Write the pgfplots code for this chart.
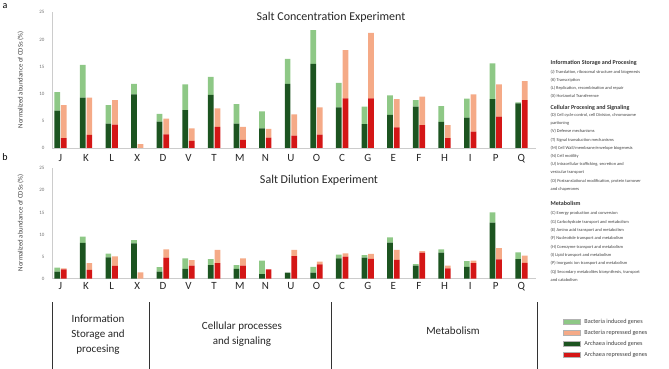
\documentclass[border=0pt]{standalone}
\usepackage{pgfplots}
\pgfplotsset{compat=1.18}
\usepackage{pgfplotstable}
\usepackage{fontspec}
\setmainfont{Carlito}

\definecolor{archInd}{RGB}{28,84,32}
\definecolor{bactInd}{RGB}{142,200,134}
\definecolor{archRep}{RGB}{212,22,22}
\definecolor{bactRep}{RGB}{245,170,135}
\definecolor{txt}{RGB}{64,64,64}

% ai/ar: archaea induced/repressed; bi/br: bacteria share stacked on top (%)
\pgfplotstableread{
idx cat ai  bi   ar   br
0   J   6.9 3.4  1.8  6.1
1   K   9.3 6.0  2.4  6.9
2   L   4.5 3.4  4.3  4.5
3   X   9.9 1.9  0.0  0.7
4   D   4.85 1.45 2.5 2.9
5   V   7.0 4.7  1.3  2.3
6   T   9.8 3.3  3.9  3.4
7   M   4.5 3.6  1.5  2.4
8   N   3.6 3.15 1.9  1.6
9   U   11.8 4.6 2.3  3.9
10  O   15.5 6.2 2.45 5.05
11  C   7.5 4.5  9.15 8.9
12  G   4.4 3.2  9.15 12.05
13  E   6.1 3.6  3.8  5.2
14  F   7.6 1.2  4.2  5.25
15  H   4.8 2.9  1.8  2.4
16  I   5.6 3.5  3.0  6.9
17  P   9.0 6.6  5.8  5.9
18  Q   8.2 0.2  8.8  3.5
}\concdata

\pgfplotstableread{
idx cat ai  bi   ar   br
0   J   1.6 0.9  2.1  0.25
1   K   8.1 1.4  2.0  1.5
2   L   4.85 0.85 2.9 2.15
3   X   8.0 0.75 0.0  1.45
4   D   1.6 1.0  4.75 1.9
5   V   2.2 2.4  2.95 1.25
6   T   3.1 1.35 3.5  3.0
7   M   2.2 0.9  2.95 1.65
8   N   1.05 3.05 2.1 0.0
9   U   1.4 0.0  5.1  1.4
10  O   1.35 1.35 3.25 0.6
11  C   4.6 0.85 5.0  0.75
12  G   4.75 0.6 4.5  1.1
13  E   8.15 1.2 4.25 2.25
14  F   2.95 0.35 5.9 0.35
15  H   5.9 0.75 2.35 0.6
16  I   2.7 1.3  3.5  0.6
17  P   12.7 2.3 4.4  2.5
18  Q   4.45 1.5 3.6  1.6
}\dilutdata

\pgfplotsset{
  panel/.style={
    scale only axis, width=484pt,
    xmin=-0.33, xmax=18.57, ymin=0, ymax=25,
    ybar stacked, bar width=5.7pt,
  },
  framed/.style={
    axis lines=left,
    axis line style={draw=black!20, -},
    major tick length=0pt,
    ytick={0,5,...,25},
    xtick={0,...,18},
    /pgf/number format/assume math mode=true,
    yticklabel style={font=\fontsize{5}{6}\selectfont, text=black!55, xshift=-4pt},
    xticklabel style={font=\fontsize{11}{12}\selectfont, text=black!85},
  },
}

\newcommand{\hd}[2]{\node[anchor=mid west, inner sep=0pt, text=black!80,
  font=\fontsize{6}{7}\selectfont\bfseries] at (550.5pt,369pt-#1pt) {#2};}
\newcommand{\ki}[2]{\node[anchor=mid west, inner sep=0pt, text=txt,
  font=\fontsize{4.4}{5}\selectfont] at (550.5pt,369pt-#1pt) {#2};}

\begin{document}
\begin{tikzpicture}
\path[use as bounding box] (0pt,0pt) rectangle (669pt,369pt);

% ---------- panel a: salt concentration ----------
\begin{axis}[panel, framed, height=135.7pt, at={(52pt,221pt)}, anchor=south west,
  xticklabels from table={\concdata}{cat},
  xticklabel style={yshift=-3pt}]
  \addplot[fill=archInd, draw=none, bar shift=-3.3pt] table[x=idx, y=ai] {\concdata};
  \addplot[fill=bactInd, draw=none, bar shift=-3.3pt] table[x=idx, y=bi] {\concdata};
\end{axis}
\begin{axis}[panel, hide axis, height=135.7pt, at={(52pt,221pt)}, anchor=south west]
  \addplot[fill=archRep, draw=none, bar shift=3.3pt] table[x=idx, y=ar] {\concdata};
  \addplot[fill=bactRep, draw=none, bar shift=3.3pt] table[x=idx, y=br] {\concdata};
\end{axis}

% ---------- panel b: salt dilution ----------
\begin{axis}[panel, framed, height=110.4pt, at={(52pt,90.3pt)}, anchor=south west,
  xticklabels from table={\dilutdata}{cat},
  xticklabel style={yshift=-0.5pt},
  legend style={at={(1.055,-0.35)}, anchor=north west, draw=none, fill=none,
    font=\fontsize{6.2}{7}\selectfont, text=txt, row sep=2.9pt, column sep=3pt,
    inner sep=0pt, nodes={inner sep=1.2pt}},
  legend cell align=left,
  legend image code/.code={\draw[#1, draw=black!30] (0pt,-2.3pt) rectangle (17pt,2.3pt);}]
  \addplot[fill=archInd, draw=none, bar shift=-3.3pt, forget plot] table[x=idx, y=ai] {\dilutdata};
  \addplot[fill=bactInd, draw=none, bar shift=-3.3pt, forget plot] table[x=idx, y=bi] {\dilutdata};
  \addlegendimage{fill=bactInd}\addlegendentry{Bacteria induced genes}
  \addlegendimage{fill=bactRep}\addlegendentry{Bacteria repressed genes}
  \addlegendimage{fill=archInd}\addlegendentry{Archaea induced genes}
  \addlegendimage{fill=archRep}\addlegendentry{Archaea repressed genes}
\end{axis}
\begin{axis}[panel, hide axis, height=110.4pt, at={(52pt,90.3pt)}, anchor=south west]
  \addplot[fill=archRep, draw=none, bar shift=3.3pt] table[x=idx, y=ar] {\dilutdata};
  \addplot[fill=bactRep, draw=none, bar shift=3.3pt] table[x=idx, y=br] {\dilutdata};
\end{axis}

% panel letters, titles, y labels
\node[font=\fontsize{10}{12}\selectfont] at (5pt,363pt) {a};
\node[font=\fontsize{10}{12}\selectfont] at (5pt,212pt) {b};
\node[font=\fontsize{12}{14}\selectfont, text=black!85] at (331pt,352pt) {Salt Concentration Experiment};
\node[font=\fontsize{12}{14}\selectfont, text=black!85] at (319pt,189pt) {Salt Dilution Experiment};
\node[rotate=90, font=\fontsize{6.8}{8}\selectfont, text=txt] at (20.5pt,289pt) {Normalized abundance of CDSs (\%)};
\node[rotate=90, font=\fontsize{6.8}{8}\selectfont, text=txt] at (20.5pt,146pt) {Normalized abundance of CDSs (\%)};

% functional groups below the categories
\draw[black!80, line width=0.9pt] (52pt,0pt) -- (52pt,67pt) (149.5pt,0pt) -- (149.5pt,67pt)
  (331.7pt,0pt) -- (331.7pt,67pt) (537pt,0pt) -- (537pt,67pt);
\node[align=center, font=\fontsize{11}{15}\selectfont, text=black!85] at (98pt,34pt)
  {Information\\Storage and\\procesing};
\node[align=center, font=\fontsize{11}{15}\selectfont, text=black!85] at (242pt,34.7pt)
  {Cellular processes\\and signaling};
\node[font=\fontsize{11}{13}\selectfont, text=black!85] at (453pt,38pt) {Metabolism};

% COG category key
\hd{61.7}{Information Storage and Procesing}
\ki{70.7}{(J) Translation, ribosomal structure and biogenesis}
\ki{79}{(K) Transcription}
\ki{87.3}{(L) Replication, recombination and repair}
\ki{95.6}{(X) Horizontal Transference}
\hd{107.3}{Cellular Procesing and Signaling}
\ki{114.3}{(D) Cell cycle control, cell Division, chromosome}
\ki{122}{partioning}
\ki{130.3}{(V) Defense mechanisms}
\ki{138.7}{(T) Signal transduction mechanisms}
\ki{147}{(M) Cell Wall/membrane/envelope biogenesis}
\ki{155}{(N) Cell motility}
\ki{163}{(U) Intracellular trafficking, secretion and}
\ki{171}{vesicular transport}
\ki{179.7}{(O) Postranslational modification, protein turnover}
\ki{188}{and chaperones}
\hd{203.3}{Metabolism}
\ki{212}{(C) Energy production and conversion}
\ki{220.7}{(G) Carbohydrate transport and metabolism}
\ki{229}{(E) Amino acid transport and metabolism}
\ki{237.3}{(F) Nucleotide transport and metabolism}
\ki{245.7}{(H) Coenzyme transport and metabolism}
\ki{254}{(I) Lipid transport and metabolism}
\ki{262.3}{(P) Inorganic ion transport and metabolism}
\ki{270.7}{(Q) Secondary metabolites biosynthesis, transport}
\ki{279}{and catabolism}
\end{tikzpicture}
\end{document}
